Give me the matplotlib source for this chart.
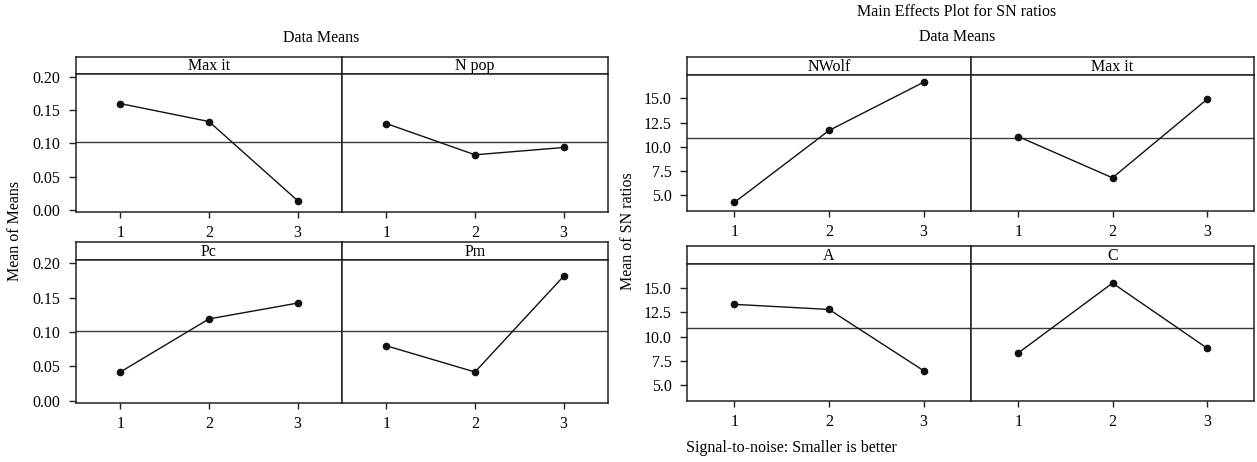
import matplotlib.pyplot as plt
import numpy as np

plt.rcParams['font.family'] = ['Liberation Serif', 'DejaVu Serif']
plt.rcParams['font.size'] = 11.5

levels = [1, 2, 3]

# Mean of means (left block)
means_factors = ['Max it', 'N pop', 'Pc', 'Pm']
means_max_it = [0.160, 0.133, 0.014]
means_n_pop = [0.130, 0.083, 0.094]
means_pc = [0.042, 0.119, 0.142]
means_pm = [0.080, 0.042, 0.181]
means_ticks = [0.00, 0.05, 0.10, 0.15, 0.20]

# Mean of SN ratios (right block)
sn_factors = ['NWolf', 'Max it', 'A', 'C']
sn_nwolf = [4.28, 11.70, 16.68]
sn_max_it = [11.08, 6.82, 14.90]
sn_a = [13.29, 12.77, 6.50]
sn_c = [8.31, 15.47, 8.82]
sn_ticks = [5.0, 7.5, 10.0, 12.5, 15.0]

W, H = 1257, 462
fig = plt.figure(figsize=(W / 100, H / 100), dpi=100)

FRAME = '#222222'
LW = 1.1
FS = 11.5


def rect(x0, y0, x1, y1):
    # pixel box (top-left origin) -> figure fraction
    return [x0 / W, 1 - y1 / H, (x1 - x0) / W, (y1 - y0) / H]


def facet(x0, x1, ys, yd, yb, name, vals, ylim, ticks, fmt, grand, first):
    strip = fig.add_axes(rect(x0, ys, x1, yd))
    strip.set_xticks([])
    strip.set_yticks([])
    for s in strip.spines.values():
        s.set_color(FRAME)
        s.set_linewidth(LW)
    strip.text(0.5, 0.45, name, ha='center', va='center', fontsize=FS,
               transform=strip.transAxes)

    ax = fig.add_axes(rect(x0, yd, x1, yb))
    for s in ax.spines.values():
        s.set_color(FRAME)
        s.set_linewidth(LW)
    ax.axhline(grand, color='#3a3a3a', lw=1.0, zorder=1)
    ax.plot(levels, vals, color='#111111', lw=1.0, marker='o',
            markersize=4.5, zorder=3)
    ax.set_xlim(0.5, 3.5)
    ax.set_ylim(*ylim)
    ax.set_xticks(levels)
    ax.tick_params(axis='x', direction='out', length=4, width=1,
                   pad=5.5, labelsize=FS, color=FRAME)
    if first:
        ax.set_yticks(ticks)
        ax.set_yticklabels([fmt.format(t) for t in ticks])
        ax.tick_params(axis='y', direction='out', length=5, width=1,
                       pad=6, labelsize=FS, color=FRAME)
    else:
        ax.set_yticks([])
    return ax


# left block: Data Means of means
all_means = means_max_it + means_n_pop + means_pc + means_pm
gm = np.mean(all_means)
lim_m = (-0.003, 0.2045)
facet(76, 342, 57, 74, 212, means_factors[0], means_max_it, lim_m, means_ticks, '{:.2f}', gm, True)
facet(342, 608, 57, 74, 212, means_factors[1], means_n_pop, lim_m, means_ticks, '{:.2f}', gm, False)
facet(76, 342, 242, 260, 403, means_factors[2], means_pc, lim_m, means_ticks, '{:.2f}', gm, True)
facet(342, 608, 242, 260, 403, means_factors[3], means_pm, lim_m, means_ticks, '{:.2f}', gm, False)

# right block: SN ratios
all_sn = sn_nwolf + sn_max_it + sn_a + sn_c
gs = np.mean(all_sn)
lim_s = (3.4, 17.42)
facet(687, 971, 57, 75, 211, sn_factors[0], sn_nwolf, lim_s, sn_ticks, '{:.1f}', gs, True)
facet(971, 1254, 57, 75, 211, sn_factors[1], sn_max_it, lim_s, sn_ticks, '{:.1f}', gs, False)
facet(687, 971, 246, 264, 401, sn_factors[2], sn_a, lim_s, sn_ticks, '{:.1f}', gs, True)
facet(971, 1254, 246, 264, 401, sn_factors[3], sn_c, lim_s, sn_ticks, '{:.1f}', gs, False)

# titles and labels
fig.text(321 / W, 1 - 38 / H, 'Data Means', ha='center', va='center', fontsize=FS)
fig.text(957 / W, 1 - 12 / H, 'Main Effects Plot for SN ratios', ha='center', va='center', fontsize=FS)
fig.text(957 / W, 1 - 37 / H, 'Data Means', ha='center', va='center', fontsize=FS)
fig.text(15 / W, 1 - 231 / H, 'Mean of Means', ha='center', va='center', rotation=90, fontsize=FS)
fig.text(628 / W, 1 - 231 / H, 'Mean of SN ratios', ha='center', va='center', rotation=90, fontsize=FS)
fig.text(686 / W, 1 - 448 / H, 'Signal-to-noise: Smaller is better', ha='left', va='center', fontsize=FS)

fig.savefig('out.png', dpi=100)
